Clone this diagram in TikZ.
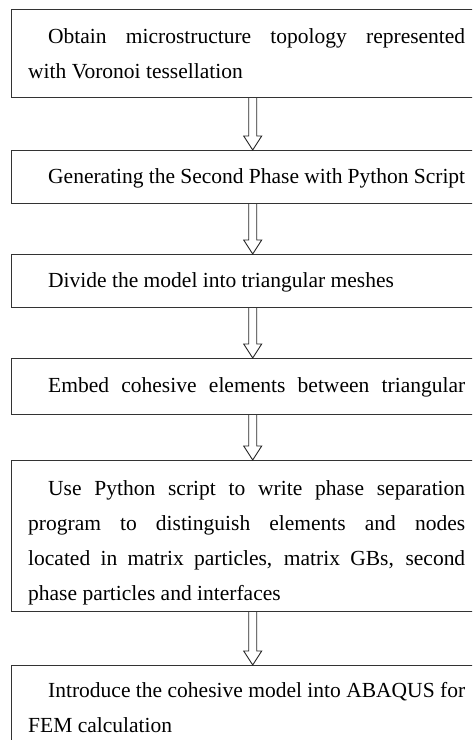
\documentclass[tikz,border=0pt]{standalone}
\usepackage{fontspec}
\setmainfont{Liberation Serif}
\usetikzlibrary{calc}

\tikzset{
  stepbox/.style={draw=black!80, line width=1.1pt, rectangle, inner sep=0pt, anchor=north west},
  steptext/.style={anchor=base west, inner sep=0pt, text width=437pt, align=justify,
    font=\fontsize{21.5}{35}\selectfont, text=black},
  flowarrow/.style={draw=black!85, line width=0.9pt, line join=miter, fill=white}
}

% hollow block arrow from the bottom edge of one box to the top edge of the next
\newcommand\flowstep[2]{%
  \path[flowarrow] let \p1=(#1.south -| ax), \p2=(#2.north -| ax) in
    (\x1-4pt,\y1) -- (\x1-4pt,\y2+14pt) -- (\x1-9pt,\y2+14pt) -- (\x2,\y2)
    -- (\x1+9pt,\y2+14pt) -- (\x1+4pt,\y2+14pt) -- (\x1+4pt,\y1);%
}

\begin{document}
\begin{tikzpicture}[x=1pt,y=1pt]
  \useasboundingbox (0,0) rectangle (472,740);
  \clip (0,0) rectangle (472,740);
  \coordinate (ax) at (252.7,0);

  % boxes (they run past the right edge, the last one past the bottom)
  \node[stepbox, minimum width=480pt, minimum height=88pt]  (b1) at (11,731) {};
  \node[stepbox, minimum width=480pt, minimum height=53pt]  (b2) at (11,590) {};
  \node[stepbox, minimum width=480pt, minimum height=53pt]  (b3) at (11,486) {};
  \node[stepbox, minimum width=480pt, minimum height=56pt]  (b4) at (11,382) {};
  \node[stepbox, minimum width=480pt, minimum height=151pt] (b5) at (11,280) {};
  \node[stepbox, minimum width=480pt, minimum height=100pt] (b6) at (11,75) {};

  % step texts
  \node[steptext] (t1) at (28,696) {\hspace*{20pt}Obtain microstructure topology represented\linebreak with Voronoi tessellation};
  \node[steptext] (t2) at (28,556) {\hspace*{20pt}Generating the Second Phase with Python Script};
  \node[steptext] (t3) at (28,452) {\hspace*{20pt}Divide the model into triangular meshes};
  \node[steptext] (t4) at (28,347) {\hspace*{20pt}Embed\hfill cohesive\hfill elements\hfill between\hfill triangular};
  \node[steptext] (t5) at (28,244) {\hspace*{20pt}Use Python script to write phase separation\linebreak program to distinguish elements and nodes\linebreak located in matrix particles, matrix GBs, second\linebreak phase particles and interfaces};
  \node[steptext] (t6) at (28,42) {\hspace*{20pt}Introduce the cohesive model into ABAQUS for\linebreak FEM calculation};

  % connectors
  \flowstep{b1}{b2}
  \flowstep{b2}{b3}
  \flowstep{b3}{b4}
  \flowstep{b4}{b5}
  \flowstep{b5}{b6}
\end{tikzpicture}
\end{document}
